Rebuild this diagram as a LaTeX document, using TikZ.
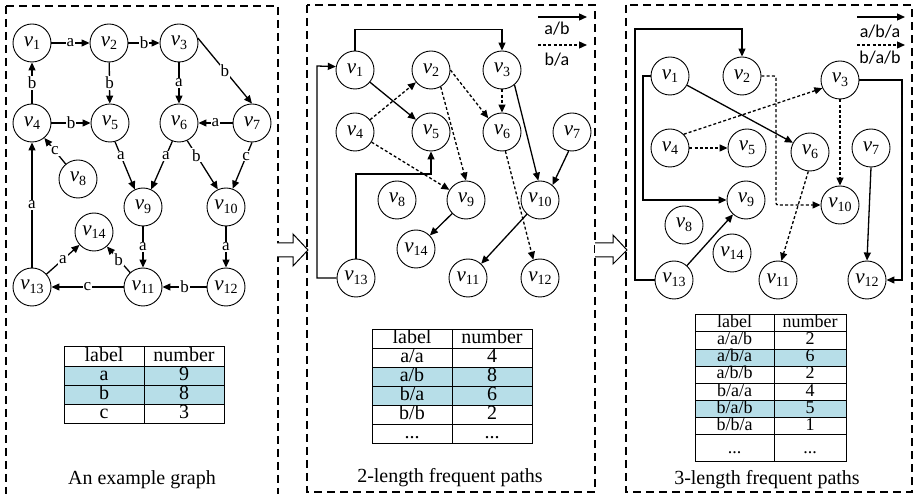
\documentclass[tikz,border=0pt]{standalone}
\usepackage{fontspec}
\setmainfont{Liberation Serif}
\newfontfamily\legfont{Carlito}
\usetikzlibrary{arrows.meta,calc}
\definecolor{hl}{RGB}{183,222,232}
\newcommand{\vn}[1]{{\fontsize{21}{21}\selectfont\itshape v}\raisebox{-3.5pt}{\fontsize{14}{14}\selectfont #1}}
\newcommand{\tcells}[5]{\node[cell] at (#1,#3) {#4}; \node[cell] at (#2,#3) {#5};}
\begin{document}
\begin{tikzpicture}[x=1pt,y=-1pt,
  vnode/.style={circle, draw, line width=0.9pt, minimum size=38pt, inner sep=0pt},
  ar/.style={-{Triangle[length=8pt,width=7pt]}, line width=1.3pt},
  da/.style={ar, dash pattern=on 3pt off 2.2pt},
  el/.style={fill=white, inner sep=1pt, font=\fontsize{17}{17}\selectfont},
  panel/.style={draw, line width=1.1pt, dash pattern=on 8pt off 5pt},
  cell/.style={font=\fontsize{20}{20}\selectfont, text height=13pt, text depth=4pt, inner sep=0pt},
  scell/.style={font=\fontsize{18}{18}\selectfont, text height=11pt, text depth=3pt, inner sep=0pt},
  tline/.style={line width=1pt},
  captxt/.style={font=\fontsize{20}{20}\selectfont},
  leg/.style={font=\legfont\fontsize{18}{18}\selectfont}]
\useasboundingbox (0,0) rectangle (914,494);

% panels
\draw[panel] (6,6) -- (6,498) (6,6) -- (278,6) -- (278,498);
\draw[panel] (307,5) rectangle (595,492);
\draw[panel] (626,5) rectangle (912,492);

% hollow arrows
\draw[line width=1pt, fill=white] (277,243) -- (293,243) -- (293,234) -- (308,250) -- (293,266) -- (293,257) -- (277,257);
\draw[line width=1pt, fill=white] (595,243) -- (613,243) -- (613,235) -- (627,250) -- (613,264) -- (613,257) -- (595,257);

% ---------------- left graph
\node[vnode] (l1) at (32,43) {\vn{1}};
\node[vnode] (l2) at (109,43) {\vn{2}};
\node[vnode] (l3) at (179,43) {\vn{3}};
\node[vnode] (l4) at (32,123) {\vn{4}};
\node[vnode] (l5) at (110,123) {\vn{5}};
\node[vnode] (l6) at (179,123) {\vn{6}};
\node[vnode] (l7) at (252,123) {\vn{7}};
\node[vnode] (l8) at (78,179) {\vn{8}};
\node[vnode] (l9) at (143,207) {\vn{9}};
\node[vnode] (l10) at (226,207) {\vn{10}};
\node[vnode] (l14) at (94,232) {\vn{14}};
\node[vnode] (l13) at (32,287) {\vn{13}};
\node[vnode] (l11) at (143,287) {\vn{11}};
\node[vnode] (l12) at (226,287) {\vn{12}};

\draw[ar] (l1) -- node[el] {a} (l2);
\draw[ar] (l2) -- node[el] {b} (l3);
\draw[ar] (l3.15) -- node[el] {b} (l7.north);
\draw[ar] (l2) -- node[el] {b} (l5);
\draw[ar] (l3) -- node[el] {a} (l6);
\draw[ar] (l4) -- node[el] {b} (l1);
\draw[ar] (l4) -- node[el] {b} (l5);
\draw[ar] (l7) -- node[el] {a} (l6);
\draw[ar] (l8) -- node[el] {c} (l4);
\draw[ar] (l13) -- node[el] {a} (l4);
\draw[ar] (l5.-75) -- node[el, pos=0.3] {a} (l9.115);
\draw[ar] (l6.-110) -- node[el, pos=0.3] {a} (l9.65);
\draw[ar] (l6.-65) -- node[el, pos=0.3] {b} (l10.115);
\draw[ar] (l7.south) -- node[el, pos=0.3] {c} (l10.70);
\draw[ar] (l9) -- node[el] {a} (l11);
\draw[ar] (l10) -- node[el] {a} (l12);
\draw[ar] (l12) -- node[el] {b} (l11);
\draw[ar] (l11) -- node[el] {c} (l13);
\draw[ar] (l13) -- node[el] {a} (l14);
\draw[ar] (l11) -- node[el] {b} (l14);

% left table
\fill[hl] (64,366.5) rectangle (224,405);
\tcells{104}{184}{356.75}{label}{number}
\tcells{104}{184}{376.25}{a}{9}
\tcells{104}{184}{395.5}{b}{8}
\tcells{104}{184}{414.5}{c}{3}
\draw[tline] (64,347) rectangle (224,424) (144,347) -- (144,424);
\foreach \y in {366.5,386,405} \draw[tline] (64,\y) -- (224,\y);
\node[captxt] (capl) at (142,480) {An example graph};

% ---------------- middle graph
\node[vnode] (m1) at (355,70) {\vn{1}};
\node[vnode] (m2) at (431,70) {\vn{2}};
\node[vnode] (m3) at (502,70) {\vn{3}};
\node[vnode] (m4) at (355,132) {\vn{4}};
\node[vnode] (m5) at (431,132) {\vn{5}};
\node[vnode] (m6) at (502,132) {\vn{6}};
\node[vnode] (m7) at (572,132) {\vn{7}};
\node[vnode] (m8) at (397,200) {\vn{8}};
\node[vnode] (m9) at (466,200) {\vn{9}};
\node[vnode] (m10) at (540,200) {\vn{10}};
\node[vnode] (m14) at (416,249) {\vn{14}};
\node[vnode] (m13) at (356,278) {\vn{13}};
\node[vnode] (m11) at (468,278) {\vn{11}};
\node[vnode] (m12) at (540,278) {\vn{12}};

\draw[ar] (m1.north) -- ++(0,-21) -| (m3.north);
\draw[ar] (m13.west) -| (317,66) -- (m1.170);
\draw[ar] (m13.north) |- (431,174) -- (m5.south);
\draw[ar] (m1) -- (m5);
\draw[ar] (m3.-50) -- (m10.95);
\draw[ar] (m7.-100) -- (m10.50);
\draw[ar] (m9) -- (m14);
\draw[ar] (m10) -- (m11);
\draw[da] (m4) -- (m2);
\draw[da] (m4) -- (m9);
\draw[da] (m2.east) -- (m6.135);
\draw[da] (m2.-60) -- (m9.north);
\draw[da] (m3.south) -- (m6.north);
\draw[da] (m6.-80) -- (m12.110);

\coordinate (ma1) at (538,17); \coordinate (ma2) at (587,17);
\coordinate (mb1) at (538,45); \coordinate (mb2) at (587,45);
\draw[ar] (ma1) -- (ma2);
\draw[da] (mb1) -- (mb2);
\node[leg] (mla) at (557,29) {a/b};
\node[leg] (mlb) at (557,60) {b/a};

% middle table
\fill[hl] (372,368) rectangle (532,406);
\tcells{412}{492}{339.5}{label}{number}
\tcells{412}{492}{358.5}{a/a}{4}
\tcells{412}{492}{377.5}{a/b}{8}
\tcells{412}{492}{396.5}{b/a}{6}
\tcells{412}{492}{415.5}{b/b}{2}
\tcells{412}{492}{434.5}{...}{...}
\draw[tline] (372,330) rectangle (532,444) (452,330) -- (452,444);
\foreach \y in {349,368,387,406,425} \draw[tline] (372,\y) -- (532,\y);
\node[captxt] (capm) at (450,478) {2-length frequent paths};

% ---------------- right graph
\node[vnode] (r1) at (670,76) {\vn{1}};
\node[vnode] (r2) at (742,76) {\vn{2}};
\node[vnode] (r3) at (840,80) {\vn{3}};
\node[vnode] (r4) at (670,148) {\vn{4}};
\node[vnode] (r5) at (747,148) {\vn{5}};
\node[vnode] (r6) at (810,152) {\vn{6}};
\node[vnode] (r7) at (871,148) {\vn{7}};
\node[vnode] (r9) at (746,200) {\vn{9}};
\node[vnode] (r10) at (840,205) {\vn{10}};
\node[vnode] (r8) at (684,225) {\vn{8}};
\node[vnode] (r14) at (732,253) {\vn{14}};
\node[vnode] (r13) at (674,280) {\vn{13}};
\node[vnode] (r11) at (778,280) {\vn{11}};
\node[vnode] (r12) at (867,280) {\vn{12}};

\draw[ar] (r13.west) -| (635,29) -| (r2.north);
\draw[ar] (r1.west) -| (643,200) -- (r9.west);
\draw[ar] (r1) -- (r6);
\draw[ar] (r13) -- (r9);
\draw[ar] (r3.east) -| (902,280) -- (r12.east);
\draw[ar] (r7.south) -- (r12.north);
\draw[da] (r4.45) -- (r3.205);
\draw[da] (r4.east) -- (r5.west);
\draw[da, rounded corners=2pt] (r2.east) -| (776,205) -- (r10.west);
\draw[da] (r3.south) -- (r10.north);
\draw[da] (r6.-95) -- (r11.80);

\coordinate (ra1) at (857,17); \coordinate (ra2) at (905,17);
\coordinate (rb1) at (857,45); \coordinate (rb2) at (905,45);
\draw[ar] (ra1) -- (ra2);
\draw[da] (rb1) -- (rb2);
\node[leg] (rla) at (880,32) {a/b/a};
\node[leg] (rlb) at (880,58) {b/a/b};

% right table
\fill[hl] (695,349.3) rectangle (846,366.3);
\fill[hl] (695,400.8) rectangle (846,418);
\node[scell] at (734.5,323.5) {label}; \node[scell] at (810,323.5) {number};
\node[scell] at (734.5,340.6) {a/a/b}; \node[scell] at (810,340.6) {2};
\node[scell] at (734.5,357.8) {a/b/a}; \node[scell] at (810,357.8) {6};
\node[scell] at (734.5,374.9) {a/b/b}; \node[scell] at (810,374.9) {2};
\node[scell] at (734.5,392.1) {b/a/a}; \node[scell] at (810,392.1) {4};
\node[scell] at (734.5,409.4) {b/a/b}; \node[scell] at (810,409.4) {5};
\node[scell] at (734.5,426.5) {b/b/a}; \node[scell] at (810,426.5) {1};
\node[scell] at (734.5,450) {...}; \node[scell] at (810,450) {...};
\draw[tline] (695,315) rectangle (846,462) (774,315) -- (774,462);
\foreach \y in {332,349.3,366.3,383.5,400.8,418,435} \draw[tline] (695,\y) -- (846,\y);
\node[captxt] (capr) at (767,480) {3-length frequent paths};
\end{tikzpicture}
\end{document}
